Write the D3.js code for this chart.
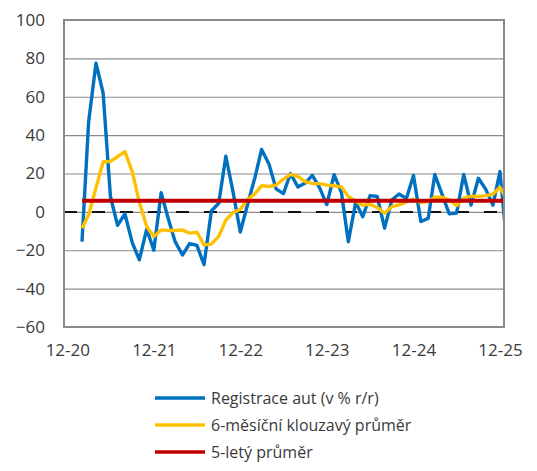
<!DOCTYPE html>
<html>
<head>
<meta charset="utf-8">
<script src="https://cdn.jsdelivr.net/npm/d3@7"></script>
<style>
body { margin: 0; background: #fff; }
text { font-family: "Open Sans", sans-serif; fill: #3a3a3a; }
</style>
</head>
<body>
<div id="wrapper"></div>
<script>
// tick labels on the axes
const xTickLabels = ["12-20", "12-21", "12-22", "12-23", "12-24", "12-25"]
const yTicks = [-60, -40, -20, 0, 20, 40, 60, 80, 100]

// first month of the series (mm-yy), one value per month after that
const firstMonth = "02-21"

// Registrace aut (v % r/r)
const registrace = [
    -15.5, 47, 77.5, 62, 8, -7, -1, -16, -25, -9, -20, 10,
    -4, -15.5, -22.5, -16.5, -17.5, -27.5, 0.5, 4.5, 29, 10, -10.5, 4,
    18, 32.5, 25, 12, 9.5, 20, 13, 15, 19, 12.5, 3.8, 19.4,
    10, -15.6, 5, -2.5, 8.5, 8, -8.5, 6.3, 9.3, 7, 19, -5,
    -3.4, 19.5, 9, -1, -0.6, 19.5, 3.5, 17.5, 12, 3.5, 21, -20
]

// 6-mesicni klouzavy prumer
const klouzavy = [
    -8.5, -1.5, 12.5, 26, 26.3, 28.8, 31.4, 21, 5, -7.6, -12.8, -9.4,
    -9.7, -9.7, -9.4, -11.1, -10.6, -17.2, -16.8, -12.8, -4.3, -0.3, 1.3, 6.5,
    9.5, 13.7, 13.2, 14, 17, 19.5, 18.5, 15.8, 14.8, 14.7, 13.9, 13.6,
    13, 8, 5.5, 3.5, 4, 2.3, -0.7, 2.7, 3.6, 5.2, 6.7, 4.8,
    5.5, 7.6, 7.6, 6.3, 3.3, 7.2, 8.2, 8.1, 8.5, 9.2, 12.8, 6.2
]

// 5-lety prumer
const petilety = 5.8

const legendLabels = ["Registrace aut (v % r/r)", "6-měsíční klouzavý průměr", "5-letý průměr"]
const colors = ["#0070c0", "#ffc000", "#c00000"]

function drawLineChart(){
    const parseMonth = d3.timeParse("%m-%y")
    const start = parseMonth(firstMonth)
    const months = registrace.map((d, i) => d3.timeMonth.offset(start, i))

    let dimensions = {
        width: 537,
        height: 471,
        margin: { top: 20, right: 33, bottom: 144, left: 64 },
    }
    dimensions.boundedWidth = dimensions.width - dimensions.margin.left - dimensions.margin.right
    dimensions.boundedHeight = dimensions.height - dimensions.margin.top - dimensions.margin.bottom

    const wrapper = d3.select("#wrapper")
        .append("svg")
        .attr("width", dimensions.width)
        .attr("height", dimensions.height)

    const bounds = wrapper.append("g")
        .attr("transform", `translate(${dimensions.margin.left},${dimensions.margin.top})`)

    const xScale = d3.scaleTime()
        .domain([new Date(2020, 10, 17), new Date(2025, 11, 18)])
        .range([0, dimensions.boundedWidth])

    const yScale = d3.scaleLinear()
        .domain([-60, 100])
        .range([dimensions.boundedHeight, 0])

    bounds.append("clipPath").attr("id", "plot-clip")
        .append("rect")
        .attr("width", dimensions.boundedWidth)
        .attr("height", dimensions.boundedHeight)

    // gridlines
    const grid = bounds.append("g")
        .call(d3.axisLeft(yScale).tickValues(yTicks).tickSize(-dimensions.boundedWidth).tickFormat(""))
    grid.select(".domain").remove()
    grid.selectAll(".tick line").attr("stroke", "#8a8a8a").attr("stroke-width", 1.2)

    // y axis labels
    const yAxis = bounds.append("g")
        .attr("transform", "translate(-19,0)")
        .call(d3.axisLeft(yScale).tickValues(yTicks).tickSize(0).tickPadding(0))
    yAxis.select(".domain").remove()
    yAxis.selectAll("text").style("font-size", "17px").style("font-family", "Open Sans").attr("fill", "#333")

    // x axis labels
    const xAxis = bounds.append("g")
        .attr("transform", `translate(0,${dimensions.boundedHeight + 17})`)
        .call(d3.axisBottom(xScale)
            .tickValues(xTickLabels.map(parseMonth))
            .tickFormat(d3.timeFormat("%m-%y"))
            .tickSize(0).tickPadding(0))
    xAxis.select(".domain").remove()
    xAxis.selectAll("text").style("font-size", "17px").style("font-family", "Open Sans").attr("fill", "#333")

    const plot = bounds.append("g").attr("clip-path", "url(#plot-clip)")

    // zero line
    plot.append("line")
        .attr("x1", 0)
        .attr("x2", dimensions.boundedWidth)
        .attr("y1", yScale(0))
        .attr("y2", yScale(0))
        .attr("stroke", "#111")
        .attr("stroke-width", 2)
        .attr("stroke-dasharray", "13,15")

    const lineGenerator = (values) => d3.line()
        .x((d, i) => xScale(months[i]))
        .y(d => yScale(d))(values)

    plot.append("path")
        .attr("d", lineGenerator(registrace))
        .attr("fill", "none")
        .attr("stroke", colors[0])
        .attr("stroke-width", 3.4)
        .attr("stroke-linejoin", "round")

    plot.append("path")
        .attr("d", lineGenerator(klouzavy))
        .attr("fill", "none")
        .attr("stroke", colors[1])
        .attr("stroke-width", 3.4)
        .attr("stroke-linejoin", "round")

    plot.append("path")
        .attr("d", lineGenerator(months.map(() => petilety)))
        .attr("fill", "none")
        .attr("stroke", colors[2])
        .attr("stroke-width", 4)

    // plot border
    bounds.append("rect")
        .attr("width", dimensions.boundedWidth)
        .attr("height", dimensions.boundedHeight)
        .attr("fill", "none")
        .attr("stroke", "#8a8a8a")
        .attr("stroke-width", 2)

    // legend
    const legend = wrapper.append("g").attr("transform", "translate(155,398)")
    const items = legend.selectAll("g")
        .data(legendLabels)
        .join("g")
        .attr("transform", (d, i) => `translate(0,${i * 27})`)
    items.append("line")
        .attr("x1", 0).attr("x2", 50)
        .attr("stroke", (d, i) => colors[i])
        .attr("stroke-width", 3.4)
    items.append("text")
        .attr("x", 56)
        .attr("dy", "0.35em")
        .style("font-size", "16px")
        .text(d => d)
}
drawLineChart()
</script>
</body>
</html>
